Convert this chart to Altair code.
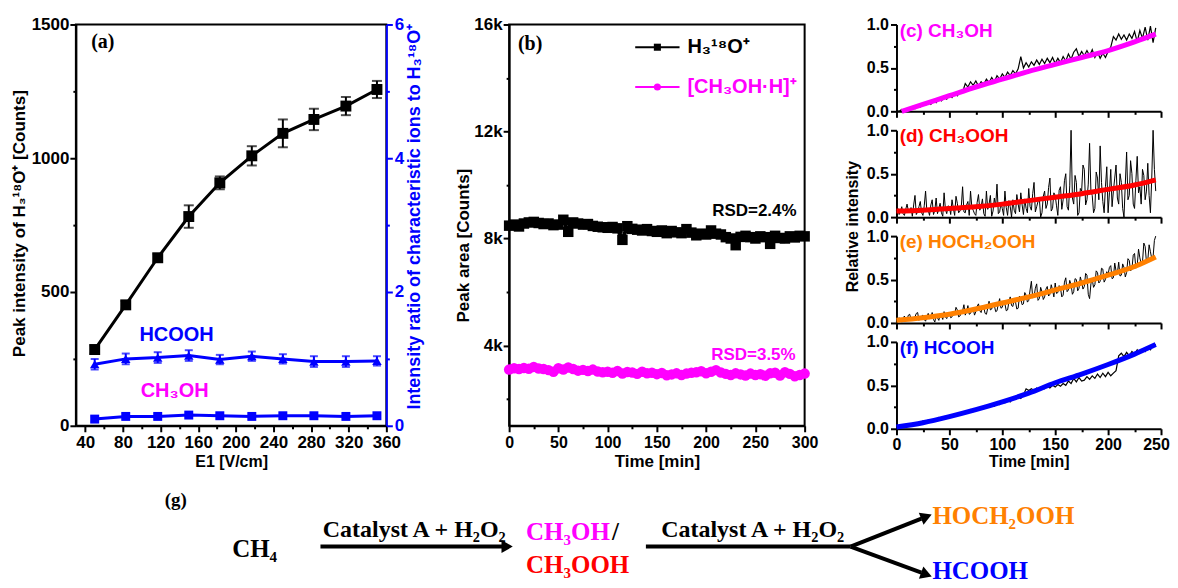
import altair as alt
import pandas as pd

SANS = "Liberation Sans"
SERIF = "Liberation Serif"
MAGENTA = "#ff00ff"
RED = "#ff0000"
ORANGE = "#ff8000"
BLUE = "#0000ff"

# ---------------- panel (a) data ----------------
A_E1 = [50, 83, 117, 150, 183, 217, 250, 283, 317, 350]
A_H3O = [285, 452, 628, 782, 908, 1009, 1093, 1145, 1195, 1257]
A_H3O_ERR = [15, 14, 14, 42, 24, 36, 52, 40, 34, 32]
A_HCOOH = [0.92, 1.00, 1.02, 1.05, 0.99, 1.04, 1.00, 0.96, 0.96, 0.97]
A_HCOOH_ERR = [0.08, 0.08, 0.08, 0.08, 0.07, 0.07, 0.07, 0.08, 0.08, 0.07]
A_CH3OH = [0.10, 0.14, 0.14, 0.16, 0.15, 0.14, 0.15, 0.15, 0.14, 0.15]
A_CH3OH_ERR = [0.04, 0.04, 0.04, 0.04, 0.04, 0.04, 0.04, 0.04, 0.04, 0.04]
A_XTICKS = [40, 60, 80, 100, 120, 140, 160, 180, 200, 220, 240, 260, 280, 300, 320, 340, 360]
A_YLTICKS = [0, 250, 500, 750, 1000, 1250, 1500]
A_YRTICKS = [0, 1, 2, 3, 4, 5, 6]

# ---------------- panel (b) data ----------------
B_TIME = list(range(0, 301, 5))
B_H3O = [8480, 8520, 8450, 8560, 8600, 8620, 8580, 8540, 8560, 8500,
         8520, 8700, 8250, 8600, 8560, 8520, 8540, 8470, 8440, 8420,
         8400, 8430, 8380, 7950, 8460, 8360, 8330, 8300, 8350, 8280,
         8250, 8300, 8200, 8280, 8230, 8200, 8350, 8220, 8120, 8180,
         8150, 8300, 8180, 8150, 8050, 8000, 7750, 8060, 8100, 8050,
         8000, 8080, 8050, 7800, 8100, 8020, 8000, 8080, 8040, 8100, 8080]
B_CH3OH = [3100, 3150, 3120, 3160, 3130, 3200, 3140, 3120, 3080, 3020,
           3150, 3100, 3180, 3120, 3060, 3090, 3050, 3100, 3030, 3000,
           3020, 2980, 3050, 2950, 3010, 2990, 2940, 3020, 2960, 2980,
           2930, 2970, 2890, 2920, 2960, 2900, 2950, 2980, 3000, 3040,
           2960, 3020, 3080, 2990, 2940, 2900, 2960, 2920, 2880, 2950,
           2900, 2930, 2870, 2960, 2980, 2880, 3000, 2940, 2850, 2900, 2950]
B_XTICKS = [0, 25, 50, 75, 100, 125, 150, 175, 200, 225, 250, 275, 300]
B_YTICKS = [2000, 4000, 6000, 8000, 10000, 12000, 14000, 16000]

# ---------------- panels (c)-(f) data ----------------
CF_TIME = [i * 2.5 for i in range(99)]      # sampling grid of (c), (f)
DE_TIME = [i * 1.25 for i in range(197)]    # sampling grid of (d), (e)
C_VAL = [0.01, 0.00, 0.02, 0.00, 0.03, 0.01, 0.05, 0.03, 0.07, 0.05,
         0.09, 0.07, 0.11, 0.08, 0.12, 0.10, 0.15, 0.12, 0.16, 0.14,
         0.19, 0.16, 0.21, 0.18, 0.23, 0.22, 0.32, 0.28, 0.34, 0.30,
         0.35, 0.29, 0.34, 0.31, 0.37, 0.33, 0.39, 0.34, 0.41, 0.37,
         0.43, 0.39, 0.45, 0.41, 0.47, 0.43, 0.49, 0.63, 0.50, 0.56,
         0.51, 0.57, 0.53, 0.59, 0.54, 0.60, 0.55, 0.61, 0.56, 0.62,
         0.55, 0.61, 0.56, 0.63, 0.58, 0.66, 0.60, 0.68, 0.72, 0.63,
         0.69, 0.64, 0.70, 0.64, 0.71, 0.62, 0.68, 0.61, 0.67, 0.62,
         0.69, 0.74, 0.86, 0.82, 0.89, 0.83, 0.88, 0.82, 0.89, 0.84,
         0.92, 0.80, 0.93, 0.84, 0.97, 0.82, 0.98, 0.79, 0.96]
D_VAL = [0.08, 0.10, 0.03, 0.06, 0.12, 0.04, 0.02, 0.09, 0.15, 0.07,
         0.05, 0.11, 0.01, 0.14, 0.25, 0.03, 0.06, 0.12, 0.18, 0.05,
         0.02, 0.13, 0.30, 0.06, 0.08, 0.02, 0.14, 0.20, 0.03, 0.08,
         0.22, 0.04, 0.10, 0.16, 0.05, 0.01, 0.28, 0.09, 0.04, 0.13,
         0.12, 0.03, 0.20, 0.10, 0.02, 0.24, 0.16, 0.05, 0.07, 0.12,
         0.35, 0.06, 0.05, 0.14, 0.18, 0.02, 0.30, 0.11, 0.08, 0.04,
         0.02, 0.17, 0.26, 0.08, 0.12, 0.21, 0.04, 0.01, 0.30, 0.09,
         0.15, 0.25, 0.01, 0.07, 0.22, 0.12, 0.38, 0.04, 0.06, 0.16,
         0.10, 0.02, 0.30, 0.11, 0.02, 0.19, 0.12, 0.00, 0.20, 0.08,
         0.04, 0.26, 0.15, 0.06, 0.28, 0.14, 0.03, 0.21, 0.10, 0.05,
         0.33, 0.12, 0.08, 0.27, 0.40, 0.06, 0.12, 0.18, 0.22, 0.00,
         0.05, 0.24, 0.30, 0.10, 0.15, 0.34, 0.45, 0.07, 0.10, 0.28,
         0.25, 0.13, 0.02, 0.31, 0.35, 0.09, 0.20, 0.42, 0.50, 0.12,
         0.08, 0.36, 1.00, 0.22, 0.15, 0.48, 0.40, 0.02, 0.05, 0.33,
         0.30, 0.60, 0.55, 0.14, 0.20, 0.38, 0.85, 0.30, 0.25, 0.05,
         0.10, 0.52, 0.45, 0.20, 0.82, 0.40, 0.18, 0.05, 0.35, 0.58,
         0.05, 0.28, 0.55, 0.12, 0.30, 0.45, 0.60, 0.22, 0.15, 0.50,
         0.40, 0.10, 0.00, 0.38, 0.75, 0.20, 0.25, 0.65, 0.50, 0.15,
         0.10, 0.42, 0.70, 0.28, 0.35, 0.15, 0.55, 0.48, 0.20, 0.30,
         0.62, 0.25, 0.05, 0.45, 1.00, 0.55, 0.30]
E_VAL = [0.02, 0.04, 0.06, 0.03, 0.01, 0.05, 0.08, 0.02, 0.04, 0.09,
         0.10, 0.04, 0.03, 0.06, 0.07, 0.11, 0.12, 0.03, 0.05, 0.08,
         0.09, 0.04, 0.02, 0.07, 0.11, 0.05, 0.06, 0.12, 0.04, 0.01,
         0.10, 0.06, 0.03, 0.09, 0.08, 0.04, 0.13, 0.07, 0.05, 0.10,
         0.12, 0.06, 0.07, 0.13, 0.10, 0.18, 0.15, 0.07, 0.08, 0.12,
         0.14, 0.21, 0.09, 0.13, 0.20, 0.10, 0.11, 0.16, 0.17, 0.09,
         0.13, 0.19, 0.22, 0.14, 0.12, 0.20, 0.18, 0.11, 0.10, 0.17,
         0.25, 0.15, 0.16, 0.23, 0.20, 0.13, 0.14, 0.22, 0.28, 0.17,
         0.18, 0.25, 0.22, 0.14, 0.15, 0.24, 0.30, 0.20, 0.19, 0.27,
         0.24, 0.16, 0.17, 0.31, 0.28, 0.21, 0.22, 0.35, 0.32, 0.24,
         0.26, 0.38, 0.48, 0.29, 0.30, 0.40, 0.45, 0.26, 0.28, 0.41,
         0.36, 0.27, 0.30, 0.39, 0.42, 0.31, 0.33, 0.44, 0.38, 0.30,
         0.46, 0.34, 0.35, 0.43, 0.40, 0.30, 0.32, 0.47, 0.52, 0.36,
         0.38, 0.49, 0.44, 0.33, 0.36, 0.51, 0.50, 0.37, 0.40, 0.53,
         0.47, 0.39, 0.42, 0.57, 0.55, 0.33, 0.28, 0.45, 0.50, 0.41,
         0.44, 0.60, 0.58, 0.46, 0.48, 0.63, 0.62, 0.47, 0.50, 0.59,
         0.56, 0.64, 0.66, 0.51, 0.52, 0.69, 0.60, 0.57, 0.70, 0.54,
         0.55, 0.68, 0.64, 0.53, 0.58, 0.74, 0.72, 0.60, 0.62, 0.78,
         0.80, 0.63, 0.66, 0.85, 0.75, 0.68, 0.70, 0.92, 0.88, 0.70,
         0.72, 0.90, 0.82, 0.74, 0.76, 0.95, 1.00]
F_VAL = [0.02, 0.01, 0.04, 0.02, 0.05, 0.03, 0.06, 0.04, 0.07, 0.06,
         0.09, 0.07, 0.10, 0.08, 0.11, 0.10, 0.13, 0.11, 0.14, 0.12,
         0.15, 0.14, 0.17, 0.15, 0.18, 0.17, 0.20, 0.18, 0.22, 0.20,
         0.23, 0.22, 0.25, 0.23, 0.26, 0.25, 0.28, 0.26, 0.29, 0.28,
         0.31, 0.30, 0.33, 0.31, 0.35, 0.34, 0.37, 0.35, 0.39, 0.46,
         0.44, 0.46, 0.44, 0.47, 0.45, 0.48, 0.46, 0.49, 0.47, 0.50,
         0.48, 0.51, 0.49, 0.52, 0.50, 0.55, 0.52, 0.58, 0.54, 0.59,
         0.55, 0.56, 0.60, 0.57, 0.61, 0.58, 0.63, 0.59, 0.64, 0.60,
         0.65, 0.61, 0.64, 0.67, 0.84, 0.87, 0.83, 0.88, 0.84, 0.89,
         0.86, 0.91, 0.87, 0.92, 0.89, 0.94, 0.91, 0.96, 0.97]
FIT_T = [0, 25, 50, 75, 100, 125, 150, 175, 200, 225, 245]
C_FIT_T = [5, 25, 50, 75, 100, 125, 150, 175, 200, 225, 245]
C_FIT = [0.00, 0.08, 0.18, 0.28, 0.37, 0.46, 0.54, 0.62, 0.70, 0.80, 0.89]
D_FIT = [0.07, 0.08, 0.10, 0.12, 0.15, 0.19, 0.23, 0.27, 0.32, 0.37, 0.43]
E_FIT = [0.03, 0.06, 0.10, 0.16, 0.23, 0.30, 0.38, 0.46, 0.55, 0.65, 0.76]
F_FIT = [0.02, 0.07, 0.14, 0.22, 0.31, 0.41, 0.53, 0.63, 0.74, 0.86, 0.97]
CF_XTICKS = [0, 25, 50, 75, 100, 125, 150, 175, 200, 225, 250]
CF_YTICKS = [0, 0.25, 0.5, 0.75, 1.0]

# ---------------- scheme (g) content ----------------
G_TEXT_C = ["(g)", "CH₄", "Catalyst A + H₂O₂", "Catalyst A + H₂O₂"]
G_TEXT_L = ["CH₃OH", "/", "CH₃OOH", "HOCH₂OOH", "HCOOH"]
G_TEXT_L_COLORS = [MAGENTA, "black", RED, ORANGE, BLUE]

NO_FRAME = alt.ViewBackground(stroke="transparent", strokeWidth=0)


def ax(values, major, fmt, tmaj=6, tmin=3, color="black", size=17, **kw):
    d = dict(values=values,
             labelExpr=f"({major}) ? {fmt} : ''",
             tickSize={"condition": {"test": major, "value": tmaj}, "value": tmin},
             grid=False, domainColor=color, tickColor=color, labelColor=color,
             titleColor=color, domainWidth=2, tickWidth=2,
             labelFont=SANS, titleFont=SANS, labelFontWeight="bold",
             titleFontWeight="bold", labelFontSize=size, titleFontSize=17,
             labelPadding=2, labelFlush=False, labelOverlap=False)
    d.update(kw)
    return alt.Axis(**d)


def label_layer(df, x, y, xenc, yenc, font=SANS, size=20, color="black", align="center"):
    return alt.Chart(df).mark_text(font=font, fontWeight="bold", fontSize=size, color=color,
                                   align=align, baseline="middle").encode(
        x=xenc(x), y=yenc(y), text="label:N")


# ================= panel (a) =================
dfa = pd.DataFrame({
    "E1": A_E1, "h3o": A_H3O,
    "h3o_lo": [v - e for v, e in zip(A_H3O, A_H3O_ERR)],
    "h3o_hi": [v + e for v, e in zip(A_H3O, A_H3O_ERR)],
    "hcooh": A_HCOOH,
    "hc_lo": [v - e for v, e in zip(A_HCOOH, A_HCOOH_ERR)],
    "hc_hi": [v + e for v, e in zip(A_HCOOH, A_HCOOH_ERR)],
    "ch3oh": A_CH3OH,
    "ch_lo": [v - e for v, e in zip(A_CH3OH, A_CH3OH_ERR)],
    "ch_hi": [v + e for v, e in zip(A_CH3OH, A_CH3OH_ERR)],
})
AX_AX = ax(A_XTICKS, "datum.value % 40 === 0", "format(datum.value, 'd')",
           title="E1 [V/cm]", titleFontSize=16, labelPadding=3, titleY=36, titleBaseline="middle")
AX_AYL = ax(A_YLTICKS, "datum.value % 500 === 0", "format(datum.value, 'd')",
            title="Peak intensity of H₃¹⁸O⁺ [Counts]", titleX=-56, titleY=199, titleAngle=270,
            titleBaseline="middle", titleAlign="center", labelPadding=1)
AX_AYR = ax(A_YRTICKS, "datum.value % 2 === 0", "format(datum.value, 'd')", color=BLUE,
            orient="right", title="Intensity ratio of characteristic ions to H₃¹⁸O⁺",
            titleX=28, titleY=192, titleAngle=270, titleBaseline="middle", titleAlign="center",
            titleFontSize=18)
SC_AX = alt.Scale(domain=[30, 360], nice=False, zero=False)
SC_AYL = alt.Scale(domain=[0, 1500], nice=False, zero=False)
SC_AYR = alt.Scale(domain=[0, 6], nice=False, zero=False)


def xa(f):
    return alt.X(f, type="quantitative", scale=SC_AX, axis=AX_AX)


def yl(f):
    return alt.Y(f, type="quantitative", scale=SC_AYL, axis=AX_AYL)


def yr(f):
    return alt.Y(f, type="quantitative", scale=SC_AYR, axis=AX_AYR)


base_a = alt.Chart(dfa)
ann_a = pd.DataFrame({"E1": [58.6, 137, 135], "h3o": [1433, 340, 130],
                      "label": ["(a)", "HCOOH", "CH₃OH"]})
left_a = alt.layer(
    base_a.mark_line(color="black", strokeWidth=3).encode(x=xa("E1"), y=yl("h3o")),
    base_a.mark_errorbar(ticks=True, color="black", thickness=2, size=10).encode(
        x=xa("E1"), y=yl("h3o_lo"), y2="h3o_hi"),
    base_a.mark_point(shape="square", filled=True, size=120, color="black", opacity=1).encode(
        x=xa("E1"), y=yl("h3o")),
    label_layer(ann_a.iloc[[0]], "E1", "h3o", xa, yl, font=SERIF, size=20),
    label_layer(ann_a.iloc[[1]], "E1", "h3o", xa, yl, size=20, color=BLUE),
    label_layer(ann_a.iloc[[2]], "E1", "h3o", xa, yl, size=20, color=MAGENTA),
)
right_a = alt.layer(
    base_a.mark_line(color=BLUE, strokeWidth=3).encode(x=xa("E1"), y=yr("hcooh")),
    base_a.mark_line(color=BLUE, strokeWidth=3).encode(x=xa("E1"), y=yr("ch3oh")),
    base_a.mark_errorbar(ticks=True, color=BLUE, thickness=2, size=8).encode(
        x=xa("E1"), y=yr("hc_lo"), y2="hc_hi"),
    base_a.mark_errorbar(ticks=True, color=BLUE, thickness=2, size=8).encode(
        x=xa("E1"), y=yr("ch_lo"), y2="ch_hi"),
    base_a.mark_point(shape="triangle-up", filled=True, size=90, color=BLUE, opacity=1).encode(
        x=xa("E1"), y=yr("hcooh")),
    base_a.mark_point(shape="square", filled=True, size=80, color=BLUE, opacity=1).encode(
        x=xa("E1"), y=yr("ch3oh")),
)
a_main = alt.layer(left_a, right_a).resolve_scale(y="independent")

# ================= scheme (g): drawn below panel (a) in diagram units =================
g_tc = pd.DataFrame({"gx": [100, 179, 339, 678], "gy": [22, 71, 52, 52],
                     "label": G_TEXT_C, "size": [19, 25, 24, 24]})
g_tl = pd.DataFrame({"gx": [451, 537, 451, 858, 858], "gy": [54, 54, 87, 38, 93],
                     "label": G_TEXT_L, "color": G_TEXT_L_COLORS, "size": [25, 25, 25, 25, 25]})
g_lines = pd.DataFrame({"gx": [245, 571, 776, 776], "gy": [69, 69, 69, 69],
                        "gx2": [428, 776, 847, 847], "gy2": [69, 69, 41, 95]})
g_heads = pd.DataFrame({"gx": [432, 852, 852], "gy": [69, 39, 97], "ang": [0, 338.5, 20]})
SC_GX = alt.Scale(domain=[0, 1088], range=[0, 1088], nice=False, zero=False)
SC_GY = alt.Scale(domain=[0, 98], range=[454, 552], nice=False, zero=False)
gxe = alt.X("gx:Q", scale=SC_GX, axis=None)
gye = alt.Y("gy:Q", scale=SC_GY, axis=None)
panel_g = alt.layer(
    alt.Chart(g_lines).mark_rule(color="black", strokeWidth=4).encode(
        x=gxe, y=gye, x2="gx2:Q", y2="gy2:Q"),
    alt.Chart(g_heads).mark_point(shape="triangle-right", filled=True, size=170,
                                  color="black", opacity=1).encode(
        x=gxe, y=gye, angle=alt.Angle("ang:Q", scale=None)),
    alt.Chart(g_tc).mark_text(font=SERIF, fontWeight="bold", align="center",
                              baseline="middle", color="black").encode(
        x=gxe, y=gye, text="label:N", size=alt.Size("size:Q", scale=None)),
    alt.Chart(g_tl).mark_text(font=SERIF, fontWeight="bold", align="left",
                              baseline="middle").encode(
        x=gxe, y=gye, text="label:N", color=alt.Color("color:N", scale=None),
        size=alt.Size("size:Q", scale=None)),
)

panel_a = alt.layer(a_main, panel_g).resolve_scale(x="independent", y="independent").properties(
    width=311, height=402, view=alt.ViewBackground(stroke="black", strokeWidth=2))

# ================= panel (b) =================
dfb = pd.DataFrame({"t": B_TIME, "h3o": B_H3O, "ch3oh": B_CH3OH})
AX_BX = ax(B_XTICKS, "datum.value % 50 === 0", "format(datum.value, 'd')", size=16,
           title="Time [min]", titleY=36, titleBaseline="middle", labelPadding=3)
AX_BY = ax(B_YTICKS, "datum.value % 4000 === 0", "format(datum.value / 1000, 'd') + 'k'",
           title="Peak area [Counts]", titleX=-46, titleY=221, titleAngle=270,
           titleBaseline="middle", titleAlign="center", labelPadding=1)
SC_BX = alt.Scale(domain=[0, 300], nice=False, zero=False)
SC_BY = alt.Scale(domain=[1000, 16000], nice=False, zero=False)


def xb(f):
    return alt.X(f, type="quantitative", scale=SC_BX, axis=AX_BX)


def yb(f):
    return alt.Y(f, type="quantitative", scale=SC_BY, axis=AX_BY)


base_b = alt.Chart(dfb)
leg_b = pd.DataFrame({"t": [128, 128], "t2": [173, 173], "tm": [150.5, 150.5],
                      "tl": [181, 181], "v": [15150, 13660],
                      "label": ["H₃¹⁸O⁺", "[CH₃OH·H]⁺"]})
ann_b = pd.DataFrame({"t": [21.3, 249, 248], "v": [15254, 9022, 3649],
                      "label": ["(b)", "RSD=2.4%", "RSD=3.5%"]})
panel_b = alt.layer(
    base_b.mark_line(color="black", strokeWidth=4).encode(x=xb("t"), y=yb("h3o")),
    base_b.mark_point(shape="square", filled=True, size=110, color="black", opacity=1).encode(
        x=xb("t"), y=yb("h3o")),
    base_b.mark_line(color=MAGENTA, strokeWidth=4).encode(x=xb("t"), y=yb("ch3oh")),
    base_b.mark_point(shape="circle", filled=True, size=110, color=MAGENTA, opacity=1).encode(
        x=xb("t"), y=yb("ch3oh")),
    alt.Chart(leg_b.iloc[[0]]).mark_rule(color="black", strokeWidth=2).encode(
        x=xb("t"), x2="t2", y=yb("v")),
    alt.Chart(leg_b.iloc[[1]]).mark_rule(color=MAGENTA, strokeWidth=2).encode(
        x=xb("t"), x2="t2", y=yb("v")),
    alt.Chart(leg_b.iloc[[0]]).mark_point(shape="square", filled=True, size=50, color="black",
                                          opacity=1).encode(x=xb("tm"), y=yb("v")),
    alt.Chart(leg_b.iloc[[1]]).mark_point(shape="circle", filled=True, size=50, color=MAGENTA,
                                          opacity=1).encode(x=xb("tm"), y=yb("v")),
    label_layer(leg_b.iloc[[0]], "tl", "v", xb, yb, size=20, align="left"),
    label_layer(leg_b.iloc[[1]], "tl", "v", xb, yb, size=20, color=MAGENTA, align="left"),
    label_layer(ann_b.iloc[[0]], "t", "v", xb, yb, font=SERIF, size=20),
    label_layer(ann_b.iloc[[1]], "t", "v", xb, yb, size=17),
    label_layer(ann_b.iloc[[2]], "t", "v", xb, yb, size=17, color=MAGENTA),
).properties(width=296, height=402, view=alt.ViewBackground(stroke="black", strokeWidth=2))

# ================= panels (c)-(f) =================
SC_CX = alt.Scale(domain=[0, 250], nice=False, zero=False)
SC_CY = alt.Scale(domain=[0, 1.0], nice=False, zero=False)


def trace_panel(times, vals, fit_t, fit_v, color, text, last=False, ytitle=False, lw=1.2):
    if last:
        axx = ax(CF_XTICKS, "datum.value % 50 === 0", "format(datum.value, 'd')", size=16,
                 title="Time [min]", titleFontSize=16, titleY=33, titleBaseline="middle",
                 labelPadding=2,
                 labelOffset={"condition": {"test": "datum.value === 250", "value": -5},
                              "value": 0})
    else:
        axx = ax(CF_XTICKS, "datum.value % 50 === 0", "format(datum.value, 'd')", size=16,
                 title=None, labels=False)
    if ytitle:
        axy = ax(CF_YTICKS, "abs(datum.value * 2 - round(datum.value * 2)) < 0.001",
                 "format(datum.value, '.1f')", size=16, title="Relative intensity",
                 titleFontSize=16, titleX=-44, titleY=96, titleAngle=270,
                 titleBaseline="middle", titleAlign="center")
    else:
        axy = ax(CF_YTICKS, "abs(datum.value * 2 - round(datum.value * 2)) < 0.001",
                 "format(datum.value, '.1f')", size=16, title=None)

    def xc(f):
        return alt.X(f, type="quantitative", scale=SC_CX, axis=axx)

    def yc(f):
        return alt.Y(f, type="quantitative", scale=SC_CY, axis=axy)

    raw = pd.DataFrame({"t": times, "v": vals})
    fit = pd.DataFrame({"t": fit_t, "v": fit_v})
    lab = pd.DataFrame({"t": [3], "v": [0.93], "label": [text]})
    return alt.layer(
        alt.Chart(raw).mark_line(color="black", strokeWidth=lw).encode(x=xc("t"), y=yc("v")),
        alt.Chart(fit).mark_line(color=color, strokeWidth=5, interpolate="monotone").encode(
            x=xc("t"), y=yc("v")),
        label_layer(lab, "t", "v", xc, yc, size=19, color=color, align="left"),
    ).properties(width=265, height=87, view=NO_FRAME)


panel_c = trace_panel(CF_TIME, C_VAL, C_FIT_T, C_FIT, MAGENTA, "(c) CH₃OH")
panel_d = trace_panel(DE_TIME, D_VAL, FIT_T, D_FIT, RED, "(d) CH₃OOH", ytitle=True, lw=1)
panel_e = trace_panel(DE_TIME, E_VAL, FIT_T, E_FIT, ORANGE, "(e) HOCH₂OOH", lw=1)
panel_f = trace_panel(CF_TIME, F_VAL, FIT_T, F_FIT, BLUE, "(f) HCOOH", last=True)
cdef = alt.vconcat(panel_c, panel_d, panel_e, panel_f, spacing=19, bounds="flush")


def spacer(w):
    return alt.Chart(pd.DataFrame({"s": [0]})).mark_text(text="", opacity=0).encode(
        x=alt.X("s:Q", axis=None), y=alt.Y("s:Q", axis=None)).properties(
        width=w, height=402, view=NO_FRAME)


# ================= layout =================
chart = alt.hconcat(panel_a, spacer(83), panel_b, spacer(52), cdef,
                    spacing=20, bounds="flush").properties(
    padding={"left": 1, "top": 6, "right": 0, "bottom": 0}
).configure_view(stroke="transparent").configure(font=SANS, background="white")

chart.save("out.html", embed_options={"renderer": "svg", "actions": False})
